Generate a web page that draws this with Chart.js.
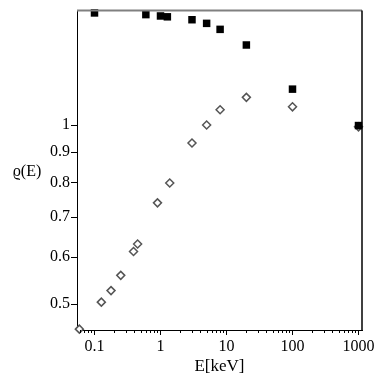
<!DOCTYPE html>
<html>
<head>
<meta charset="utf-8">
<script src="https://cdn.jsdelivr.net/npm/chart.js@4/dist/chart.umd.min.js"></script>
<style>body{margin:0;background:#fff}</style>
</head>
<body>
<canvas id="chart" width="382" height="382"></canvas>
<script>
  // filled squares
  var energyFilled = [0.1, 0.6, 1, 1.27, 3, 5, 8, 20, 100, 1000];
  var rhoFilled = [1.543, 1.533, 1.525, 1.52, 1.503, 1.482, 1.448, 1.363, 1.149, 0.998];
  // open diamonds
  var energyOpen = [0.059, 0.127, 0.178, 0.25, 0.39, 0.45, 0.9, 1.38, 3, 5, 8, 20, 100, 1000];
  var rhoOpen = [0.454, 0.504, 0.527, 0.559, 0.613, 0.631, 0.740, 0.799, 0.933, 1.0, 1.061, 1.113, 1.073, 0.993];

  var xTicks = [0.1, 1, 10, 100, 1000];
  var yTicks = [0.5, 0.6, 0.7, 0.8, 0.9, 1];

  var serif = 'Liberation Serif';

  function points(xs, ys) {
    return xs.map(function (x, i) { return {x: x, y: ys[i]}; });
  }

  var framePlugin = {
    id: 'frame',
    afterDraw: function (chart) {
      var c = chart.ctx, a = chart.chartArea, xs = chart.scales.x;
      c.save();
      // top border (grey) and right border
      c.strokeStyle = '#808080';
      c.lineWidth = 2;
      c.beginPath(); c.moveTo(a.left, a.top); c.lineTo(a.right, a.top); c.stroke();
      c.strokeStyle = '#000';
      c.lineWidth = 1.5;
      c.beginPath(); c.moveTo(a.right, a.top); c.lineTo(a.right, a.bottom); c.stroke();
      // minor ticks on x axis
      c.lineWidth = 1;
      for (var d = 0.01; d < 1000; d *= 10) {
        for (var k = 2; k <= 9; k++) {
          var v = k * d;
          if (v < xs.min || v > xs.max) continue;
          var px = Math.round(xs.getPixelForValue(v)) + 0.5;
          c.beginPath(); c.moveTo(px, a.bottom); c.lineTo(px, a.bottom + 3); c.stroke();
        }
      }
      // y title, horizontal
      c.fillStyle = '#000';
      c.font = '16px "' + serif + '"';
      c.textAlign = 'center';
      c.textBaseline = 'middle';
      c.fillText('\u03F1(E)', 27, 172);
      c.restore();
    }
  };

  new Chart(document.getElementById('chart'), {
    type: 'scatter',
    data: {
      datasets: [{
        label: 'filled',
        data: points(energyFilled, rhoFilled),
        pointStyle: 'rect',
        pointRadius: 5.3,
        borderWidth: 0,
        backgroundColor: '#000',
        borderColor: '#000',
        order: 0
      }, {
        label: 'open',
        data: points(energyOpen, rhoOpen),
        pointStyle: 'rectRot',
        pointRadius: 4,
        borderWidth: 1.5,
        backgroundColor: '#fff',
        borderColor: '#555',
        order: 1
      }]
    },
    options: {
      responsive: false,
      animation: false,
      devicePixelRatio: 1,
      clip: false,
      layout: {padding: {top: 10, right: 20, left: 0, bottom: 0}},
      plugins: {legend: {display: false}, tooltip: {enabled: false}},
      scales: {
        x: {
          type: 'logarithmic',
          min: 0.0543,
          max: 1130,
          afterBuildTicks: function (s) { s.ticks = xTicks.map(function (v) { return {value: v}; }); },
          afterFit: function (s) { s.height = 52; },
          border: {color: '#000', width: 1},
          grid: {drawOnChartArea: false, color: '#000', tickLength: 5},
          ticks: {
            color: '#000', padding: 2, maxRotation: 0, autoSkip: false,
            font: {family: serif, size: 16},
            callback: function (v) { return String(v); }
          },
          title: {
            display: true, text: 'E[keV]', color: '#000',
            font: {family: serif, size: 17}, padding: {top: 0, bottom: 5}
          }
        },
        y: {
          type: 'logarithmic',
          min: 0.4525,
          max: 1.557,
          afterBuildTicks: function (s) { s.ticks = yTicks.map(function (v) { return {value: v}; }); },
          afterFit: function (s) { s.width = 77; },
          border: {color: '#000', width: 1},
          grid: {drawOnChartArea: false, color: '#000', tickLength: 6},
          ticks: {
            color: '#000', padding: 1, autoSkip: false,
            font: {family: serif, size: 16},
            callback: function (v) { return String(v); }
          }
        }
      }
    },
    plugins: [framePlugin]
  });
</script>
</body>
</html>
